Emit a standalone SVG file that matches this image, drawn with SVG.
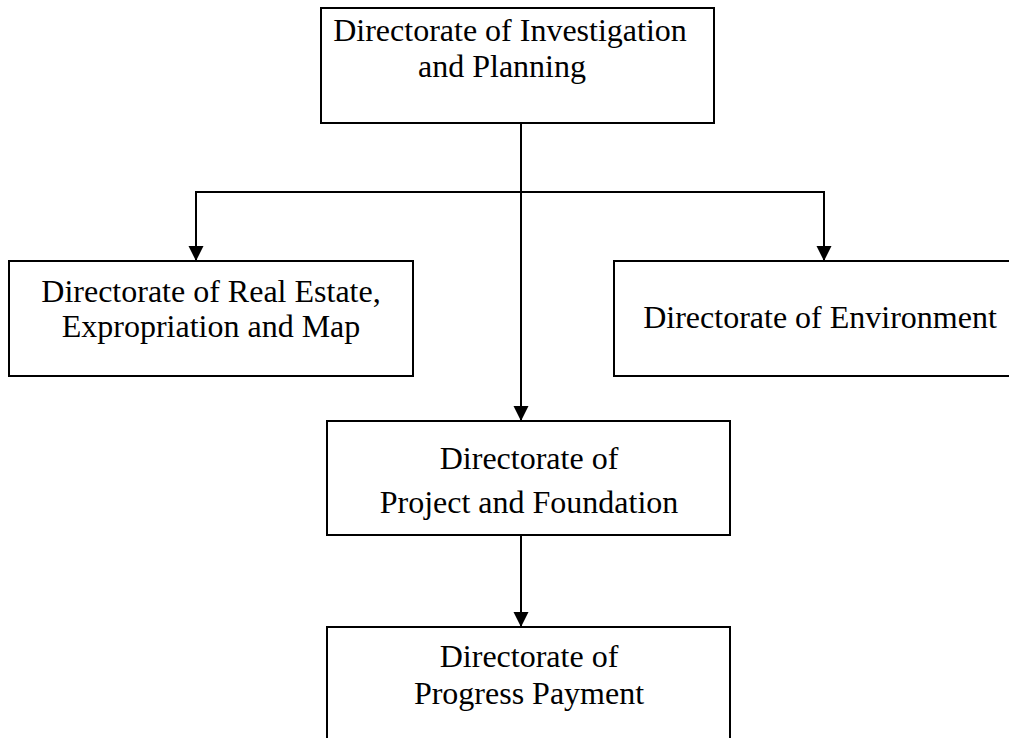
<svg xmlns="http://www.w3.org/2000/svg" width="1009" height="738" viewBox="0 0 1009 738">
<style>
.box{fill:#fff;stroke:#000;stroke-width:2}
.lbl{font-family:"Liberation Serif","Times New Roman",serif;font-size:32px;fill:#000;text-anchor:middle}
.conn{fill:none;stroke:#000;stroke-width:2}
</style>
<defs>
<marker id="arr" markerUnits="userSpaceOnUse" markerWidth="16" markerHeight="16" refX="15" refY="7.5" orient="auto">
<path d="M0,0 L15,7.5 L0,15 z" fill="#000"/>
</marker>
</defs>
<rect width="1009" height="738" fill="#fff"/>
<g id="n-investigation">
<rect class="box" x="321" y="8" width="393" height="115"/>
<text class="lbl" x="510" y="41">Directorate of Investigation</text>
<text class="lbl" x="502" y="77">and Planning</text>
</g>
<g id="n-realestate">
<rect class="box" x="9" y="261" width="404" height="115"/>
<text class="lbl" x="211" y="302">Directorate of Real Estate,</text>
<text class="lbl" x="211" y="337">Expropriation and Map</text>
</g>
<g id="n-environment">
<rect class="box" x="614" y="261" width="400" height="115"/>
<text class="lbl" x="820" y="328">Directorate of Environment</text>
</g>
<g id="n-project">
<rect class="box" x="327" y="421" width="403" height="114"/>
<text class="lbl" x="529" y="469">Directorate of</text>
<text class="lbl" x="529" y="513">Project and Foundation</text>
</g>
<g id="n-payment">
<rect class="box" x="327" y="627" width="403" height="130"/>
<text class="lbl" x="529" y="667">Directorate of</text>
<text class="lbl" x="529" y="704">Progress Payment</text>
</g>
<g id="connectors">
<path class="conn" d="M521,123 V421" marker-end="url(#arr)"/>
<path class="conn" d="M196,261 V192 H824 V261" />
<path class="conn" d="M196,192 V261" marker-end="url(#arr)"/>
<path class="conn" d="M824,192 V261" marker-end="url(#arr)"/>
<path class="conn" d="M521,535 V627" marker-end="url(#arr)"/>
</g>
</svg>
